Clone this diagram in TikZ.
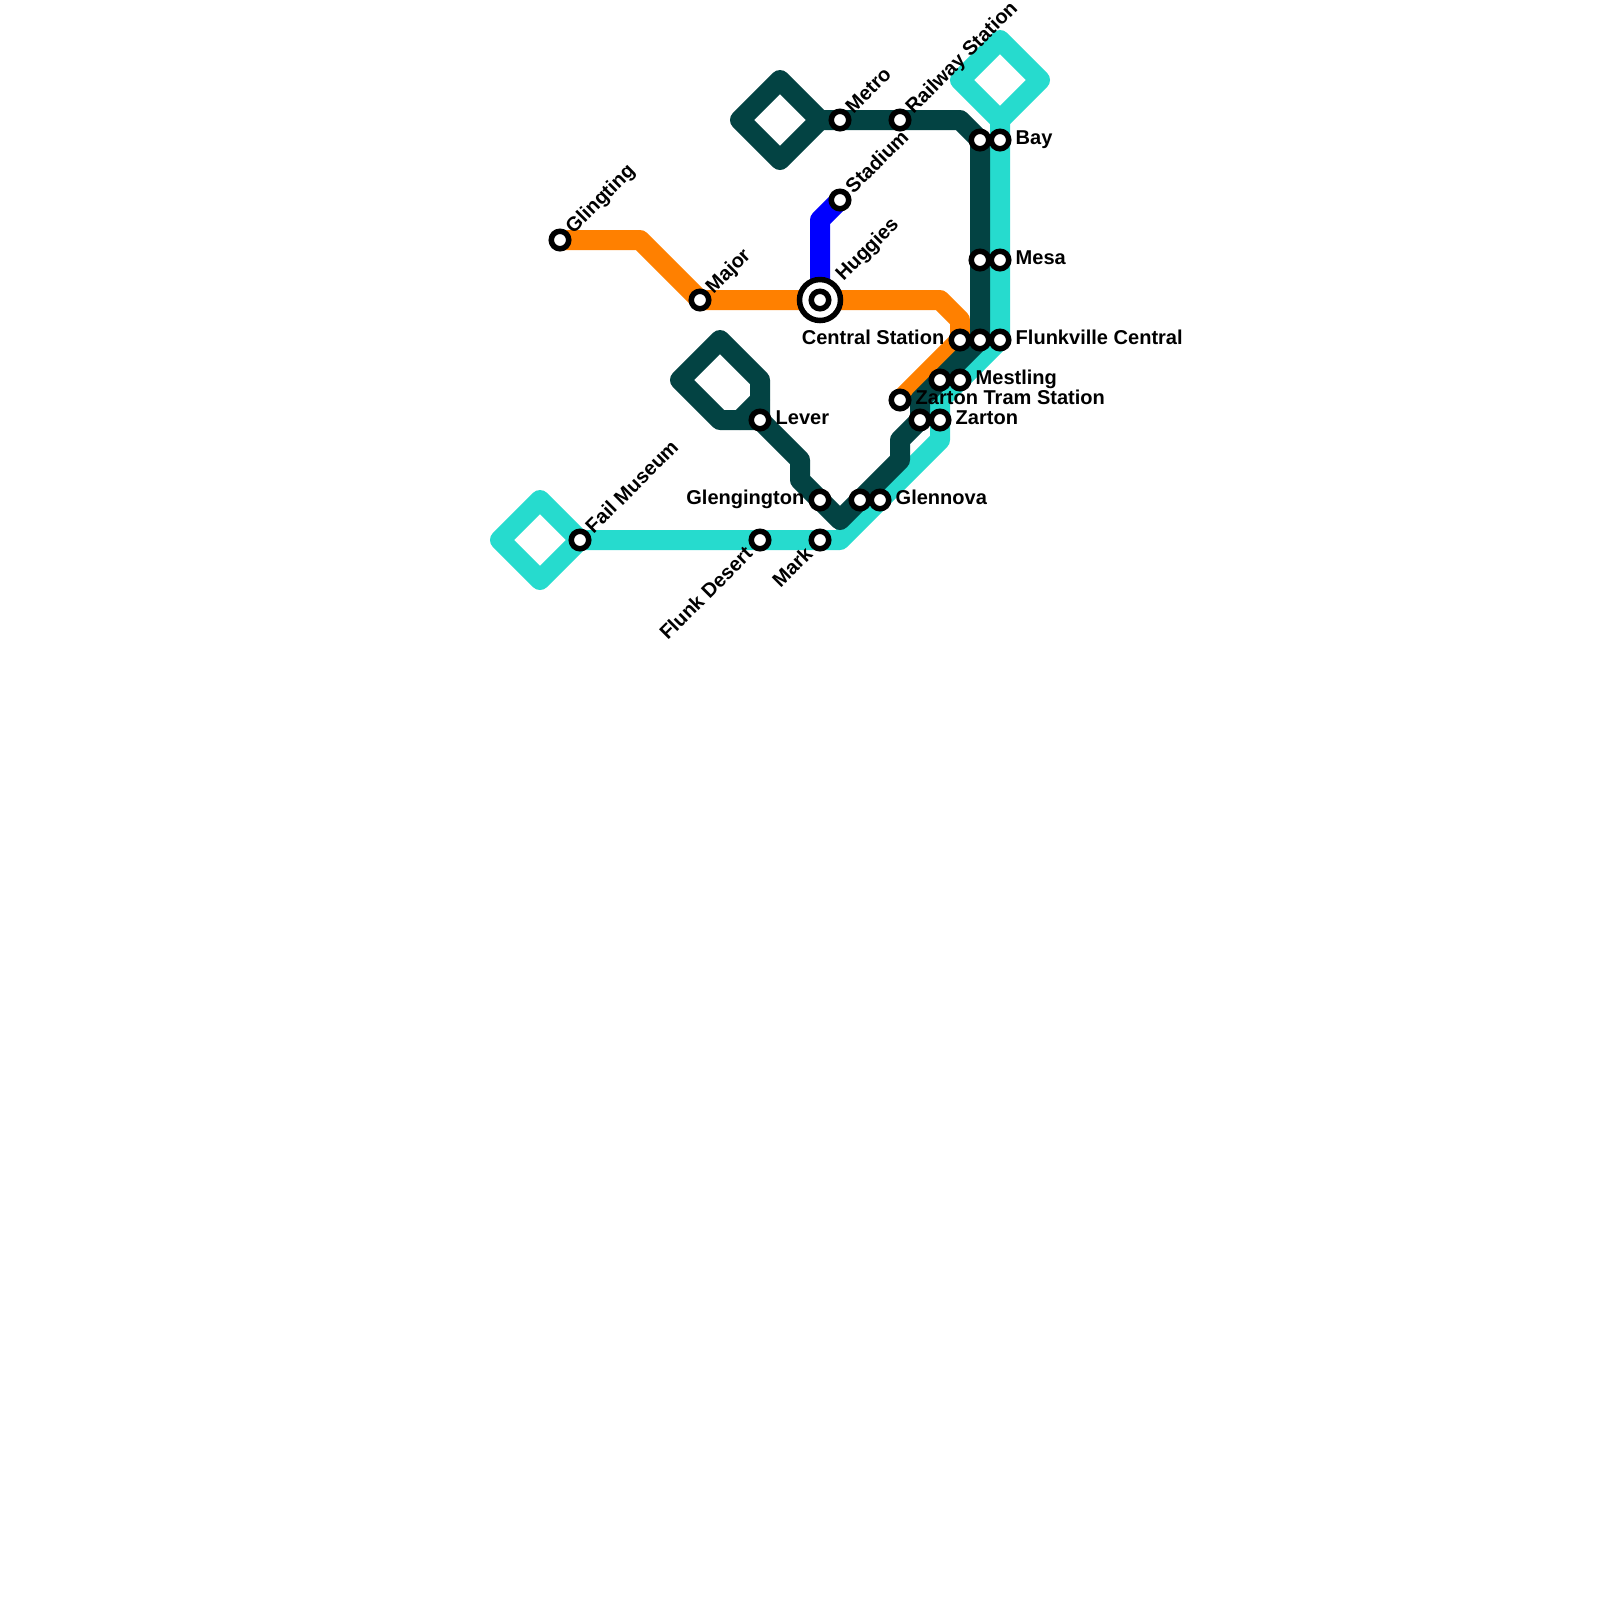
\documentclass[tikz,border=0pt]{standalone}
\usepackage{fontspec}
\setmainfont{Liberation Sans}
\usetikzlibrary{backgrounds}
\definecolor{mdark}{HTML}{034343}
\definecolor{mcyan}{HTML}{26DBCE}
\definecolor{morange}{HTML}{FF8000}
\definecolor{mblue}{HTML}{0000FF}
\tikzset{line/.style = {line width=2mm, line join=round, line cap=round}}
\tikzset{stn/.style = {draw=black, fill=white, circle, line width=0.55mm, inner sep=0, minimum size=1.75mm}}
\tikzset{hub/.style = {draw=black, fill=white, circle, line width=0.55mm, inner sep=0, minimum size=4.1mm}}
\tikzset{lab/.style = {font=\fontsize{5.7}{6}\selectfont\bfseries, inner sep=0, text=black, text height=1.44mm, text depth=0pt}}
\tikzset{lr/.style = {lab, anchor=west, xshift=0.35mm, yshift=0.25mm}}
\tikzset{ll/.style = {lab, anchor=east, xshift=-0.35mm, yshift=0.25mm}}
\tikzset{ur/.style = {lab, rotate=45, anchor=west, xshift=0.15mm, yshift=0.15mm}}
\tikzset{dl/.style = {lab, rotate=45, anchor=east, xshift=-0.3mm, yshift=0.1mm}}
\begin{document}
\begin{tikzpicture}[x=0.2cm, y=-0.2cm]
      \useasboundingbox (0,0) rectangle (80,80);
      % orange line and blue line
      \node[stn, label={[ur]45:Glingting}] (glingting) at (28,12) {};
      \node[stn, label={[ur]45:Major}] (major) at (35,15) {};
      \node[hub] (huggiesring) at (41,15) {};
      \node[stn, label={[ur, xshift=1.6mm, yshift=0.2mm]45:Huggies}] (huggies) at (41,15) {};
      \node[stn, label={[ur]45:Stadium}] (stadium) at (42,10) {};
      \node[stn, label={[ll]left:Central Station}] (central) at (48,17) {};
      \node[stn, label={[lr]right:Zarton Tram Station}] (tram) at (45,20) {};
      % dark line
      \node[stn, label={[ur]45:Metro}] (metro) at (42,6) {};
      \node[stn, label={[ur]45:Railway Station}] (railway) at (45,6) {};
      \node[stn] (bayd) at (49,7) {};
      \node[stn] (mesad) at (49,13) {};
      \node[stn] (flunkd) at (49,17) {};
      \node[stn] (mestd) at (47,19) {};
      \node[stn] (zartd) at (46,21) {};
      \node[stn] (glend) at (43,25) {};
      \node[stn, label={[ll]left:Glengington}] (glengington) at (41,25) {};
      \node[stn, label={[lr]right:Lever}] (lever) at (38,21) {};
      % cyan line
      \node[stn, label={[lr]right:Bay}] (bay) at (50,7) {};
      \node[stn, label={[lr]right:Mesa}] (mesa) at (50,13) {};
      \node[stn, label={[lr]right:Flunkville Central}] (flunkville) at (50,17) {};
      \node[stn, label={[lr]right:Mestling}] (mestling) at (48,19) {};
      \node[stn, label={[lr]right:Zarton}] (zarton) at (47,21) {};
      \node[stn, label={[lr]right:Glennova}] (glennova) at (44,25) {};
      \node[stn, label={[dl]225:Mark}] (mark) at (41,27) {};
      \node[stn, label={[dl]225:Flunk Desert}] (desert) at (38,27) {};
      \node[stn, label={[ur]45:Fail Museum}] (fail) at (29,27) {};
      \begin{scope}[on background layer]
        \draw[line, mblue] (stadium.center) -- (41,11) -- (huggies.center);
        \draw[line, morange] (glingting.center) -- (32,12) -- (major.center)
          -- (huggies.center) -- (47,15) -- (48,16) -- (central.center) -- (tram.center);
        \draw[line, mcyan] (50,2) -- (52,4) -- (50,6) -- (48,4) -- cycle;
        \draw[line, mcyan] (50,6) -- (bay.center) -- (mesa.center) -- (flunkville.center)
          -- (mestling.center) -- (47,20) -- (zarton.center) -- (47,22) -- (glennova.center)
          -- (42,27) -- (mark.center) -- (desert.center) -- (fail.center);
        \draw[line, mcyan] (fail.center) -- (27,25) -- (25,27) -- (27,29) -- cycle;
        \draw[line, mdark] (41,6) -- (39,4) -- (37,6) -- (39,8) -- cycle;
        \draw[line, mdark] (41,6) -- (metro.center) -- (railway.center) -- (48,6)
          -- (bayd.center) -- (mesad.center) -- (flunkd.center) -- (mestd.center)
          -- (46,20) -- (zartd.center) -- (45,22) -- (45,23) -- (glend.center) -- (42,26)
          -- (glengington.center) -- (40,24) -- (40,23) -- (lever.center);
        \draw[line, mdark] (lever.center) -- (38,19) -- (36,17) -- (34,19) -- (36,21)
          -- (lever.center);
        \draw[line, mdark] (38,20) -- (37,21);
      \end{scope}
    \end{tikzpicture}
\end{document}
